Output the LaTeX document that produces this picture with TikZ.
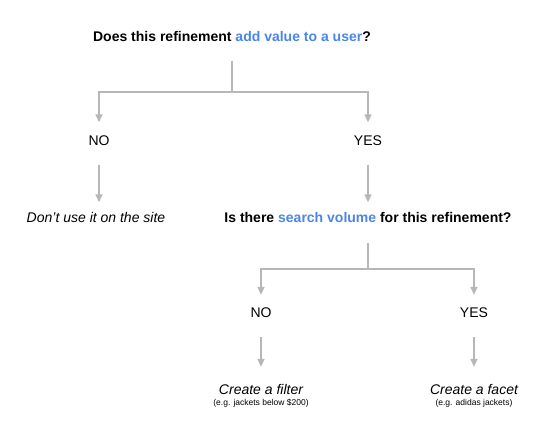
\documentclass[tikz,border=0pt]{standalone}
\usepackage{fontspec}
\setmainfont{Liberation Sans}
\usepackage{tikz}
\usetikzlibrary{arrows.meta,positioning}

\definecolor{linegray}{HTML}{B7B7B7}
\definecolor{hlblue}{HTML}{4A86E8}
\newcommand{\hl}[1]{\textcolor{hlblue}{#1}}

\begin{document}
\begin{tikzpicture}[
  x=1pt, y=-1pt,
  font=\fontsize{14}{16}\selectfont,
  txt/.style={inner sep=0pt, text height=10pt, text depth=0pt},
  question/.style={txt, font=\fontsize{14}{16}\selectfont\bfseries},
  answer/.style={txt},
  outcome/.style={txt, font=\fontsize{14}{16}\selectfont\itshape},
  note/.style={inner sep=0pt, text height=6pt, text depth=0pt, font=\fontsize{8.5}{10}\selectfont},
  stem/.style={draw=linegray, line width=1.5pt},
  line/.style={stem, -{Triangle[width=7pt,length=8pt]}}
]
\useasboundingbox (0,0) rectangle (560,433);

% Nodes
\node[question] (q1) at (232,36.5) {Does this refinement \hl{add value to a user}?};
\node[answer] (no1) at (99,140.5) {NO};
\node[answer] (yes1) at (368,140.5) {YES};
\node[outcome] (dont) at (96,217.5) {Don't use it on the site};
\node[question] (q2) at (368,217.5) {Is there \hl{search volume} for this refinement?};
\node[answer] (no2) at (261,312) {NO};
\node[answer] (yes2) at (474,312) {YES};
\node[outcome] (filter) at (261,389) {Create a filter};
\node[note, below=5.5pt of filter] (filternote) {(e.g. jackets below \$200)};
\node[outcome] (facet) at (474,389) {Create a facet};
\node[note, below=5.5pt of facet] (facetnote) {(e.g. adidas jackets)};

\coordinate (split1) at (232,92);
\coordinate (split2) at (368,269);

% Connections
\draw[stem, shorten <=19pt] (q1.south) -- (split1);
\draw[line, shorten >=13pt] (split1) -| (no1.north);
\draw[line, shorten >=13pt] (split1) -| (yes1.north);
\draw[line, shorten <=19pt, shorten >=10pt] (no1.south) -- (no1.south |- dont.north);
\draw[line, shorten <=19pt, shorten >=10pt] (yes1.south) -- (q2.north);

\draw[stem, shorten <=20pt] (q2.south) -- (split2);
\draw[line, shorten >=12pt] (split2) -| (no2.north);
\draw[line, shorten >=12pt] (split2) -| (yes2.north);
\draw[line, shorten <=20pt, shorten >=17pt] (no2.south) -- (filter.north);
\draw[line, shorten <=20pt, shorten >=17pt] (yes2.south) -- (facet.north);

\end{tikzpicture}
\end{document}
